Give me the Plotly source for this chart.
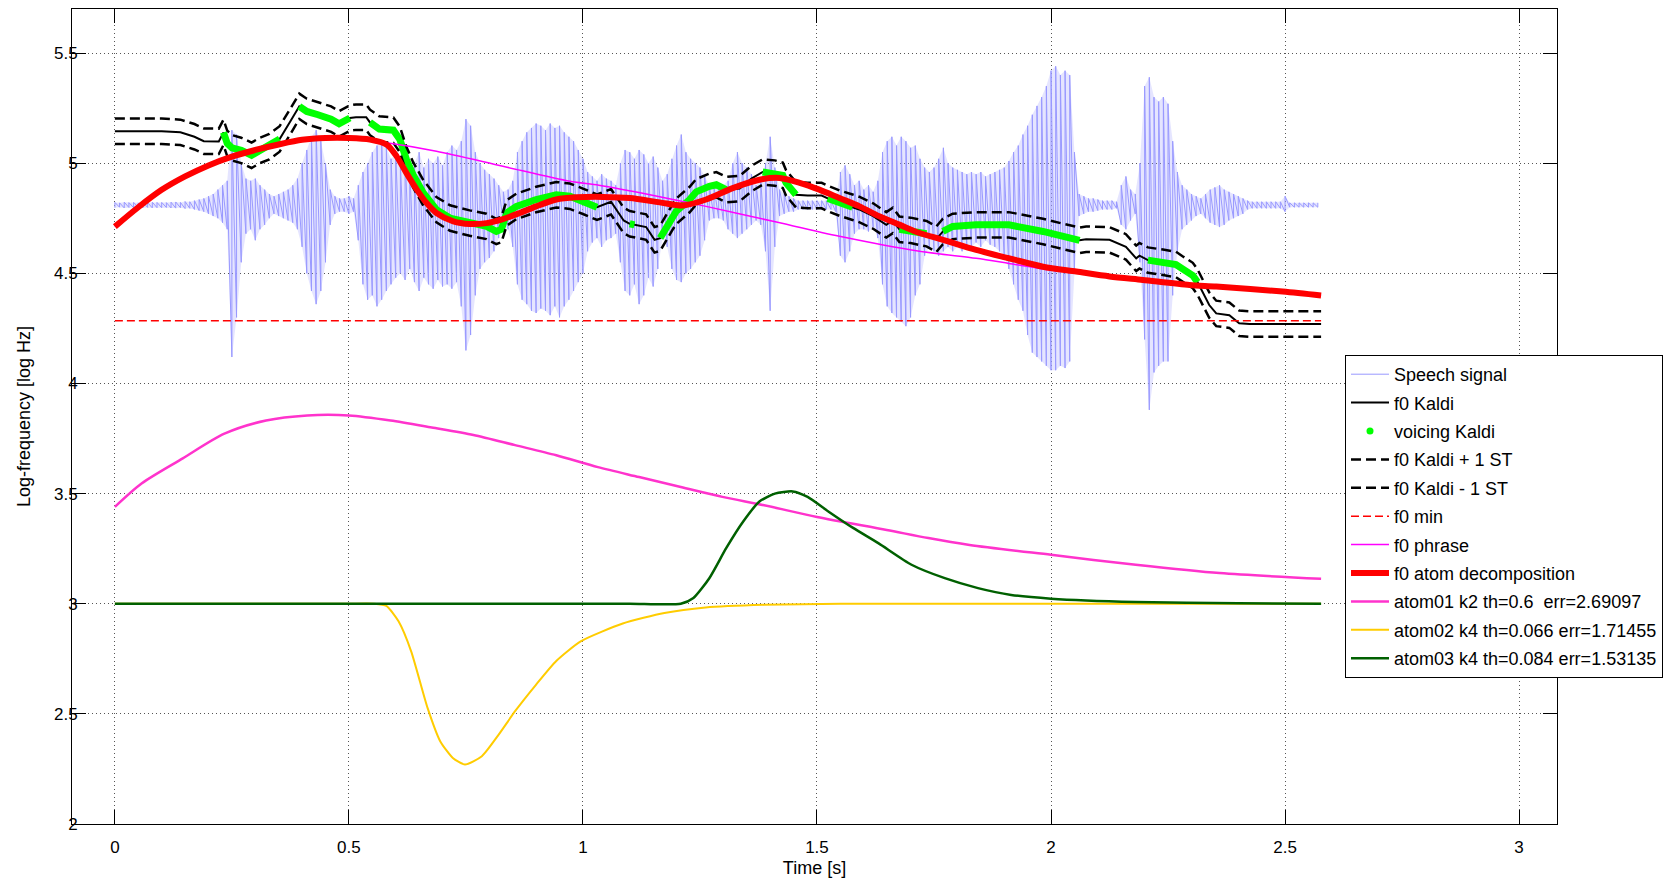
import numpy as np
import plotly.graph_objects as go

# ---- speech signal envelope, sampled every 10 ms (log-Hz display units) ----
sig_dt = 0.01
sig_hi = [
    4.822, 4.820, 4.823, 4.821, 4.822, 4.820, 4.822, 4.821, 4.823, 4.822,
    4.822, 4.821, 4.823, 4.824, 4.822, 4.826, 4.825, 4.830, 4.835, 4.840,
    4.85, 4.86, 4.88, 4.90, 4.92, 5.15, 5.13, 5.00, 4.93, 4.92,
    4.93, 4.90, 4.88, 4.86, 4.85, 4.86, 4.87, 4.88, 4.90, 4.93,
    5.00, 5.06, 5.12, 5.15, 5.10, 5.00, 4.88, 4.85, 4.84, 4.84,
    4.85, 4.84, 4.90, 4.96, 5.00, 5.05, 5.08, 5.10, 5.07, 5.02,
    5.04, 5.00, 5.03, 4.98, 5.00, 5.05, 4.98, 5.02, 5.00, 5.03,
    4.99, 5.05, 5.08, 5.06, 5.10, 5.20, 5.17, 5.05, 5.00, 4.97,
    4.95, 4.93, 4.90, 4.87, 4.88, 4.92, 5.05, 5.10, 5.14, 5.16,
    5.18, 5.17, 5.15, 5.18, 5.16, 5.17, 5.14, 5.12, 5.10, 5.06,
    5.02, 4.96, 4.94, 4.92, 4.95, 4.93, 4.92, 4.90, 5.00, 5.06,
    5.05, 5.02, 5.06, 5.04, 5.00, 5.03, 4.98, 4.92, 4.95, 5.02,
    5.08, 5.13, 5.05, 5.02, 5.00, 4.98, 4.94, 4.90, 4.89, 4.89,
    4.90, 4.92, 5.00, 5.05, 5.00, 4.98, 4.95, 4.90, 4.92, 5.00,
    5.12, 4.98, 4.88, 4.86, 4.85, 4.84, 4.83, 4.83, 4.83, 4.83,
    4.83, 4.83, 4.83, 4.83, 4.84, 4.96, 4.99, 4.95, 4.90, 4.92,
    4.88, 4.90, 4.87, 4.92, 5.05, 5.10, 5.12, 5.08, 5.12, 5.10,
    5.07, 5.08, 5.02, 4.98, 4.96, 4.98, 5.02, 5.07, 5.00, 4.98,
    4.97, 4.96, 4.95, 4.96, 4.95, 4.96, 4.94, 4.95, 4.96, 4.97,
    4.98, 5.01, 5.05, 5.08, 5.13, 5.17, 5.22, 5.26, 5.30, 5.35,
    5.42, 5.44, 5.40, 5.42, 5.40, 5.05, 4.86, 4.85, 4.84, 4.84,
    4.835, 4.83, 4.83, 4.83, 4.825, 4.90, 4.94, 4.88, 4.86, 5.00,
    5.35, 5.39, 5.30, 5.28, 5.30, 5.27, 5.10, 4.96, 4.90, 4.88,
    4.86, 4.85, 4.84, 4.86, 4.88, 4.89, 4.90, 4.88, 4.87, 4.86,
    4.85, 4.84, 4.83, 4.825, 4.825, 4.825, 4.825, 4.825, 4.825, 4.825,
    4.85, 4.82, 4.82, 4.82, 4.82, 4.82, 4.82, 4.82,
]
sig_lo = [
    4.798, 4.800, 4.797, 4.799, 4.798, 4.800, 4.798, 4.799, 4.797, 4.798,
    4.798, 4.799, 4.797, 4.796, 4.798, 4.794, 4.795, 4.790, 4.785, 4.780,
    4.77, 4.76, 4.75, 4.73, 4.70, 4.12, 4.30, 4.55, 4.68, 4.70,
    4.65, 4.70, 4.72, 4.75, 4.77, 4.76, 4.75, 4.74, 4.73, 4.70,
    4.62, 4.50, 4.42, 4.36, 4.42, 4.55, 4.72, 4.77, 4.78, 4.78,
    4.77, 4.78, 4.65, 4.45, 4.38, 4.40, 4.35, 4.38, 4.42, 4.45,
    4.48, 4.50, 4.47, 4.52, 4.46, 4.42, 4.48, 4.45, 4.43, 4.47,
    4.44, 4.45, 4.43, 4.46, 4.35, 4.15, 4.22, 4.40, 4.52, 4.55,
    4.57, 4.60, 4.66, 4.72, 4.70, 4.62, 4.45, 4.38, 4.36, 4.33,
    4.32, 4.34, 4.33, 4.31, 4.35, 4.30, 4.35, 4.38, 4.42, 4.46,
    4.50, 4.60, 4.64, 4.66, 4.62, 4.65, 4.66, 4.68, 4.55, 4.42,
    4.40, 4.45, 4.36, 4.40, 4.48, 4.44, 4.52, 4.66, 4.62, 4.52,
    4.47, 4.46, 4.50, 4.52, 4.55, 4.58, 4.65, 4.74, 4.75, 4.75,
    4.74, 4.70, 4.68, 4.66, 4.68, 4.70, 4.72, 4.74, 4.72, 4.60,
    4.33, 4.62, 4.76, 4.77, 4.78, 4.78, 4.79, 4.79, 4.79, 4.79,
    4.79, 4.79, 4.79, 4.79, 4.78, 4.58, 4.55, 4.60, 4.68, 4.70,
    4.70, 4.69, 4.71, 4.66, 4.45, 4.35, 4.32, 4.30, 4.28, 4.26,
    4.30, 4.40, 4.45, 4.58, 4.62, 4.60, 4.58, 4.60, 4.62, 4.60,
    4.62, 4.60, 4.63, 4.62, 4.64, 4.62, 4.65, 4.63, 4.62, 4.60,
    4.58, 4.52, 4.45, 4.38, 4.33, 4.22, 4.14, 4.12, 4.10, 4.08,
    4.06, 4.06, 4.08, 4.07, 4.10, 4.50, 4.76, 4.77, 4.78, 4.78,
    4.785, 4.79, 4.79, 4.79, 4.795, 4.72, 4.70, 4.74, 4.77, 4.55,
    4.20, 3.88, 4.05, 4.08, 4.10, 4.10, 4.40, 4.60, 4.70, 4.72,
    4.74, 4.76, 4.77, 4.75, 4.73, 4.72, 4.71, 4.72, 4.74, 4.75,
    4.76, 4.77, 4.79, 4.795, 4.795, 4.795, 4.795, 4.795, 4.795, 4.795,
    4.78, 4.80, 4.80, 4.80, 4.80, 4.80, 4.80, 4.80,
]

# ---- Kaldi pitch track: time [s], log f0, voicing flag ----
f0_t = [0.000, 0.100, 0.140, 0.170, 0.190, 0.222, 0.232, 0.240, 0.250, 0.270,
        0.292, 0.310, 0.330, 0.352, 0.375, 0.394, 0.410, 0.434, 0.462, 0.479,
        0.502, 0.515, 0.537, 0.545, 0.565, 0.595, 0.609, 0.623, 0.637, 0.659,
        0.687, 0.716, 0.758, 0.794, 0.815, 0.826, 0.837, 0.858, 0.900, 0.943,
        0.972, 1.000, 1.030, 1.060, 1.087, 1.100, 1.110, 1.135, 1.153, 1.165,
        1.190, 1.199, 1.228, 1.242, 1.270, 1.285, 1.306, 1.335, 1.360, 1.384,
        1.410, 1.427, 1.434, 1.455, 1.480, 1.510, 1.523, 1.548, 1.576, 1.590,
        1.620, 1.648, 1.662, 1.676, 1.700, 1.734, 1.755, 1.769, 1.790, 1.840,
        1.910, 1.983, 2.030, 2.061, 2.075, 2.125, 2.160, 2.182, 2.189, 2.207,
        2.239, 2.267, 2.281, 2.303, 2.313, 2.324, 2.338, 2.353, 2.381, 2.402,
        2.424, 2.577]
f0_kaldi = [5.145, 5.145, 5.140, 5.120, 5.100, 5.099, 5.140, 5.090, 5.070, 5.058,
            5.036, 5.058, 5.075, 5.110, 5.190, 5.258, 5.235, 5.220, 5.200, 5.179,
            5.205, 5.209, 5.209, 5.185, 5.155, 5.150, 5.107, 5.016, 4.948, 4.865,
            4.789, 4.751, 4.728, 4.713, 4.690, 4.700, 4.774, 4.804, 4.835, 4.857,
            4.850, 4.827, 4.800, 4.825, 4.740, 4.725, 4.720, 4.710, 4.652, 4.660,
            4.750, 4.781, 4.835, 4.870, 4.895, 4.902, 4.880, 4.885, 4.930, 4.960,
            4.955, 4.945, 4.910, 4.857, 4.853, 4.853, 4.840, 4.819, 4.800, 4.790,
            4.760, 4.720, 4.740, 4.700, 4.695, 4.680, 4.655, 4.690, 4.713, 4.720,
            4.720, 4.690, 4.665, 4.650, 4.655, 4.652, 4.620, 4.568, 4.580, 4.560,
            4.550, 4.540, 4.520, 4.490, 4.460, 4.416, 4.356, 4.318, 4.310, 4.273,
            4.270, 4.270]
voiced = [0, 0, 0, 0, 0, 0, 1, 1, 1, 1,
          1, 1, 1, 1, 0, 1, 1, 1, 1, 1,
          1, 0, 0, 1, 1, 1, 1, 1, 1, 1,
          1, 1, 1, 1, 1, 1, 1, 1, 1, 1,
          1, 1, 1, 0, 0, 1, 1, 0, 0, 1,
          1, 1, 1, 1, 1, 1, 1, 0, 0, 1,
          1, 1, 1, 1, 0, 0, 1, 1, 1, 0,
          0, 0, 0, 1, 1, 1, 0, 1, 1, 1,
          1, 1, 1, 1, 0, 0, 0, 0, 0, 1,
          1, 1, 1, 1, 1, 0, 0, 0, 0, 0,
          0, 0]
semitone = np.log(2.0) / 12.0
f0_min = 4.285

# ---- phrase component and full atom decomposition ----
phrase_t = [0.00, 0.05, 0.10, 0.15, 0.20, 0.25, 0.30, 0.35, 0.40, 0.45,
            0.50, 0.574, 0.687, 0.829, 0.972, 1.034, 1.143, 1.263, 1.406, 1.548,
            1.719, 1.840, 1.910, 2.000, 2.100, 2.200, 2.300, 2.400, 2.500, 2.577]
phrase_v = [4.712, 4.81, 4.88, 4.94, 4.99, 5.03, 5.06, 5.085, 5.105, 5.113,
            5.113, 5.095, 5.054, 4.986, 4.918, 4.90, 4.857, 4.804, 4.736, 4.668,
            4.600, 4.568, 4.545, 4.515, 4.49, 4.468, 4.447, 4.43, 4.412, 4.399]

recon_t = [0.00, 0.05, 0.10, 0.15, 0.20, 0.25, 0.30, 0.35, 0.40, 0.45,
           0.50, 0.545, 0.581, 0.602, 0.623, 0.645, 0.666, 0.687, 0.723, 0.758,
           0.794, 0.829, 0.865, 0.900, 0.943, 0.986, 1.043, 1.100, 1.164, 1.214,
           1.263, 1.320, 1.377, 1.420, 1.463, 1.505, 1.548, 1.591, 1.633, 1.676,
           1.719, 1.769, 1.840, 1.911, 1.983, 2.054, 2.125, 2.196, 2.296, 2.353,
           2.495, 2.577]
recon_v = [4.712, 4.80, 4.879, 4.94, 4.99, 5.03, 5.06, 5.085, 5.106, 5.114,
           5.114, 5.107, 5.084, 5.031, 4.955, 4.880, 4.819, 4.774, 4.736, 4.724,
           4.728, 4.746, 4.774, 4.804, 4.835, 4.845, 4.847, 4.842, 4.822, 4.808,
           4.835, 4.887, 4.925, 4.933, 4.911, 4.880, 4.842, 4.804, 4.759, 4.721,
           4.683, 4.652, 4.606, 4.568, 4.530, 4.508, 4.486, 4.470, 4.447, 4.440,
           4.417, 4.399]

# ---- individual atoms (offset around 3) ----
atom1_t = [0.00, 0.057, 0.145, 0.234, 0.323, 0.411, 0.50, 0.589, 0.677, 0.766,
           0.855, 0.943, 1.032, 1.12, 1.209, 1.298, 1.387, 1.50, 1.649, 1.738,
           1.826, 2.00, 2.181, 2.36, 2.577]
atom1_v = [3.44, 3.546, 3.66, 3.772, 3.832, 3.855, 3.855, 3.832, 3.80, 3.766,
           3.72, 3.674, 3.62, 3.575, 3.53, 3.485, 3.447, 3.394, 3.335, 3.298,
           3.267, 3.222, 3.177, 3.139, 3.113]
atom2_t = [0.00, 0.20, 0.40, 0.50, 0.553, 0.58, 0.606, 0.633, 0.668, 0.695,
           0.722, 0.748, 0.784, 0.82, 0.855, 0.90, 0.943, 0.996, 1.085, 1.174,
           1.262, 1.387, 1.55, 1.80, 2.10, 2.35, 2.577]
atom2_v = [3.0, 3.0, 3.0, 3.0, 3.0, 2.99, 2.92, 2.784, 2.527, 2.376,
           2.30, 2.27, 2.308, 2.406, 2.512, 2.633, 2.74, 2.83, 2.91, 2.958,
           2.983, 2.995, 3.0, 3.0, 3.0, 3.0, 3.0]
atom3_t = [0.00, 0.30, 0.60, 0.90, 1.10, 1.209, 1.236, 1.27, 1.306, 1.342,
           1.377, 1.41, 1.448, 1.48, 1.525, 1.578, 1.631, 1.702, 1.773, 1.844,
           1.915, 2.00, 2.18, 2.40, 2.577]
atom3_v = [3.0, 3.0, 3.0, 3.0, 3.0, 3.0, 3.026, 3.116, 3.252, 3.372,
           3.464, 3.50, 3.51, 3.485, 3.418, 3.343, 3.275, 3.177, 3.116, 3.071,
           3.04, 3.023, 3.008, 3.002, 3.0]

legend_names = ["Speech signal", "f0 Kaldi", "voicing Kaldi", "f0 Kaldi + 1 ST",
                "f0 Kaldi - 1 ST", "f0 min", "f0 phrase", "f0 atom decomposition",
                "atom01 k2 th=0.6  err=2.69097", "atom02 k4 th=0.066 err=1.71455",
                "atom03 k4 th=0.084 err=1.53135"]

# ---- derived arrays ----
sig_t = np.arange(len(sig_hi)) * sig_dt
wave_x = np.repeat(sig_t, 2)
wave_y = np.empty(2 * len(sig_hi))
wave_y[0::2] = sig_lo
wave_y[1::2] = sig_hi

f0_arr = np.array(f0_kaldi)
green_y = [v if flag else None for v, flag in zip(f0_kaldi, voiced)]

FONT = "Liberation Sans, Arial, Helvetica, sans-serif"
SIG_COLOR = "#9999ff"

fig = go.Figure()
# faint body of the waveform between its lower and upper envelope
fig.add_trace(go.Scatter(x=sig_t, y=sig_lo, mode="lines", showlegend=False,
                         hoverinfo="skip", line=dict(color="rgba(0,0,0,0)", width=0)))
fig.add_trace(go.Scatter(x=sig_t, y=sig_hi, mode="lines", showlegend=False,
                         hoverinfo="skip", fill="tonexty",
                         fillcolor="rgba(153,153,255,0.25)",
                         line=dict(color="rgba(0,0,0,0)", width=0)))
fig.add_trace(go.Scatter(x=wave_x, y=wave_y, mode="lines", name=legend_names[0],
                         legendgroup="g0", line=dict(color=SIG_COLOR, width=1)))
fig.add_trace(go.Scatter(x=f0_t, y=f0_kaldi, mode="lines", name=legend_names[1],
                         legendgroup="g1", line=dict(color="black", width=2)))
fig.add_trace(go.Scatter(x=f0_t, y=green_y, mode="lines", showlegend=False,
                         legendgroup="g2", connectgaps=False,
                         line=dict(color="#00ff00", width=7)))
fig.add_trace(go.Scatter(x=[None], y=[None], mode="markers", name=legend_names[2],
                         legendgroup="g2", marker=dict(color="#00ff00", size=7)))
fig.add_trace(go.Scatter(x=f0_t, y=f0_arr + semitone, mode="lines", name=legend_names[3],
                         legendgroup="g3",
                         line=dict(color="black", width=2.5, dash="10px,5px")))
fig.add_trace(go.Scatter(x=f0_t, y=f0_arr - semitone, mode="lines", name=legend_names[4],
                         legendgroup="g4",
                         line=dict(color="black", width=2.5, dash="10px,5px")))
fig.add_trace(go.Scatter(x=[f0_t[0], f0_t[-1]], y=[f0_min, f0_min], mode="lines",
                         name=legend_names[5], legendgroup="g5",
                         line=dict(color="#ff0000", width=1.5, dash="8px,4px")))
fig.add_trace(go.Scatter(x=phrase_t, y=phrase_v, mode="lines", name=legend_names[6],
                         legendgroup="g6",
                         line=dict(color="#ff00ff", width=1.5, shape="spline", smoothing=0.8)))
fig.add_trace(go.Scatter(x=recon_t, y=recon_v, mode="lines", name=legend_names[7],
                         legendgroup="g7",
                         line=dict(color="#ff0000", width=6, shape="spline", smoothing=0.8)))
fig.add_trace(go.Scatter(x=atom1_t, y=atom1_v, mode="lines", name=legend_names[8],
                         legendgroup="g8",
                         line=dict(color="#ff33cc", width=2.5, shape="spline", smoothing=0.8)))
fig.add_trace(go.Scatter(x=atom2_t, y=atom2_v, mode="lines", name=legend_names[9],
                         legendgroup="g9",
                         line=dict(color="#ffcc00", width=2, shape="spline", smoothing=0.6)))
fig.add_trace(go.Scatter(x=atom3_t, y=atom3_v, mode="lines", name=legend_names[10],
                         legendgroup="g10",
                         line=dict(color="#006000", width=2.5, shape="spline", smoothing=0.6)))

axis_common = dict(
    showline=True, linecolor="black", linewidth=1, mirror="ticks",
    ticks="inside", ticklen=14, tickcolor="black", tickwidth=1,
    showgrid=True, gridcolor="#555555", gridwidth=1, griddash="1px,3px",
    zeroline=False, automargin=False,
    tickfont=dict(family=FONT, size=17, color="black"),
)
fig.update_xaxes(range=[-0.0916, 3.081], tickvals=[0, 0.5, 1, 1.5, 2, 2.5, 3],
                 ticktext=["0", "0.5", "1", "1.5", "2", "2.5", "3"],
                 ticklabelstandoff=8,
                 title=dict(text="Time [s]", font=dict(family=FONT, size=18, color="black"),
                            standoff=4),
                 **axis_common)
fig.update_yaxes(range=[2, 5.7], tickvals=[2, 2.5, 3, 3.5, 4, 4.5, 5, 5.5],
                 ticktext=["2", "2.5", "3", "3.5", "4", "4.5", "5", "5.5"],
                 ticklabelstandoff=-10,
                 title=dict(text="Log-frequency [log Hz]",
                            font=dict(family=FONT, size=18, color="black"), standoff=18),
                 **axis_common)

fig.update_layout(
    width=1665, height=880,
    margin=dict(l=72, r=108, t=9, b=56, autoexpand=False),
    paper_bgcolor="white", plot_bgcolor="white",
    font=dict(family=FONT, color="black"),
    showlegend=True,
    legend=dict(x=1345 / 1665, y=1 - 355 / 880, xref="container", yref="container",
                xanchor="left", yanchor="top",
                bgcolor="white", bordercolor="black", borderwidth=1,
                font=dict(family=FONT, size=18, color="black"),
                tracegroupgap=2, itemwidth=38, groupclick="toggleitem"),
)

fig.write_html("out.html")
